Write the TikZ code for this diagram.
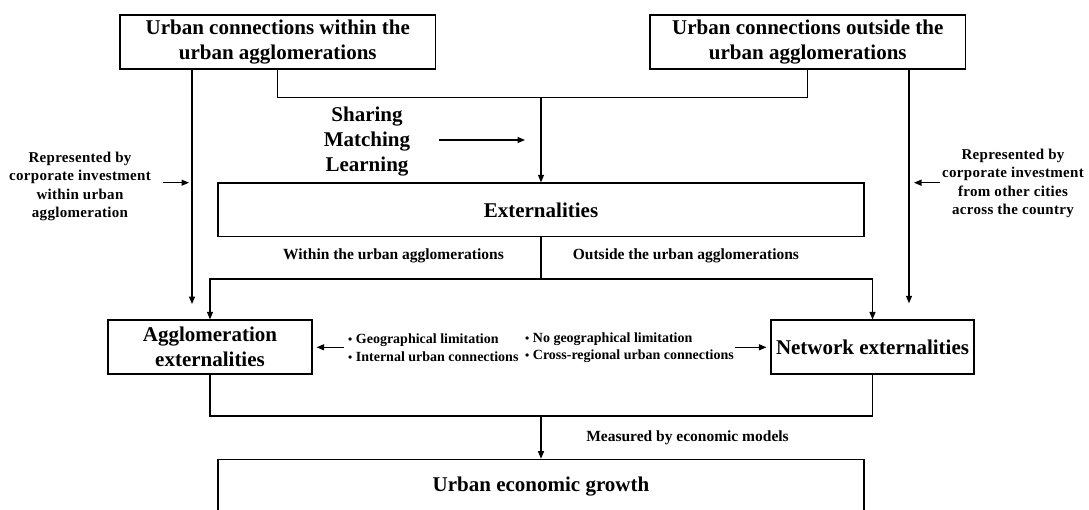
\documentclass[tikz,border=0pt]{standalone}
\usepackage{fontspec}
\setmainfont{Liberation Serif}
\usetikzlibrary{arrows.meta}
\newcommand{\bigf}{\bfseries\fontsize{21}{25}\selectfont}
\newcommand{\lblf}{\bfseries\fontsize{15}{18.5}\selectfont\addfontfeature{LetterSpace=2}}
\newcommand{\midf}{\bfseries\fontsize{15.5}{18.5}\selectfont}
\newcommand{\bulf}{\bfseries\fontsize{14}{17.7}\selectfont}
\newcommand{\sbul}{{\fontsize{12}{12}\selectfont •}}
\begin{document}
\begin{tikzpicture}[x=1pt,y=-1pt,
  box/.style={draw, line width=1.2pt, inner sep=0pt, align=center, font=\bigf},
  conn/.style={line width=1.2pt},
  arr/.style={line width=1.2pt, -{Triangle[length=7.5pt,width=6pt]}},
  txt/.style={inner sep=0pt, align=center}]
\useasboundingbox (0,0) rectangle (1089,509);

% boxes
\node[box, minimum width=315.5pt, minimum height=54pt] (tl) at (277.75,42) {Urban connections within the\\urban agglomerations};
\node[box, minimum width=315.5pt, minimum height=54pt] (tr) at (807.8,42) {Urban connections outside the\\urban agglomerations};
\node[box, minimum width=646pt, minimum height=53.7pt] (ext) at (541,209.85) {Externalities};
\node[box, minimum width=204pt, minimum height=54pt] (ag) at (210,347) {Agglomeration\\externalities};
\node[box, minimum width=203pt, minimum height=54pt] (nw) at (872.5,347) {Network externalities};
\node[box, minimum width=646pt, minimum height=55pt] (gr) at (541,486.8) {Urban economic growth};

% labels
\node[txt, font=\bigf] (share) at (367,141.7) {Sharing\\Matching\\Learning};
\node[txt, font=\lblf] (lbl) at (80,186.3) {Represented by\\corporate investment\\within urban\\agglomeration};
\node[txt, font=\lblf] (rbl) at (1013,183.4) {Represented by\\corporate investment\\from other cities\\across the country};
\node[txt, font=\midf, anchor=east] (win) at (504,256) {Within the urban agglomerations};
\node[txt, font=\midf, anchor=west] (out) at (572.7,256) {Outside the urban agglomerations};
\node[txt, font=\midf] (meas) at (687.5,437.5) {Measured by economic models};
\node[txt, font=\bulf, align=left, anchor=west] (bl) at (348,347.8) {\sbul\ Geographical limitation\\\sbul\ Internal urban connections};
\node[txt, font=\bulf, align=left, anchor=west] (br) at (525,347.8) {\sbul\ No geographical limitation\\\sbul\ Cross-regional urban connections};

% junction coordinates
\coordinate (jt) at (541,97.3);
\coordinate (jm) at (541,279);
\coordinate (jb) at (541,416);
\coordinate (lend) at (192,304);
\coordinate (rend) at (909,303.3);
\coordinate (sa) at (439,140);
\coordinate (sb) at (525,140);
\coordinate (la) at (163,182.7);
\coordinate (lb) at (189,182.7);
\coordinate (ra) at (939.5,182.7);
\coordinate (rb) at (914,182.7);
\coordinate (ba) at (344,347.3);
\coordinate (bb) at (735,347.3);

% connectors
\draw[conn] (tl.south) |- (jt);
\draw[conn] (tr.south) |- (jt);
\draw[arr] (jt) -- (ext.north);
\draw[arr] (tl.south -| lend) -- (lend);
\draw[arr] (tr.south -| rend) -- (rend);
\draw[conn] (ext.south) -- (jm);
\draw[arr] (jm) -| (ag.north);
\draw[arr] (jm) -| (nw.north);
\draw[conn] (ag.south) |- (jb);
\draw[conn] (nw.south) |- (jb);
\draw[arr] (jb) -- (gr.north);
\draw[arr] (sa) -- (sb);
\draw[arr] (la) -- (lb);
\draw[arr] (ra) -- (rb);
\draw[arr, shorten >=4pt] (ba) -- (ag.east |- ba);
\draw[arr, shorten >=4pt] (bb) -- (nw.west |- bb);
\end{tikzpicture}
\end{document}
